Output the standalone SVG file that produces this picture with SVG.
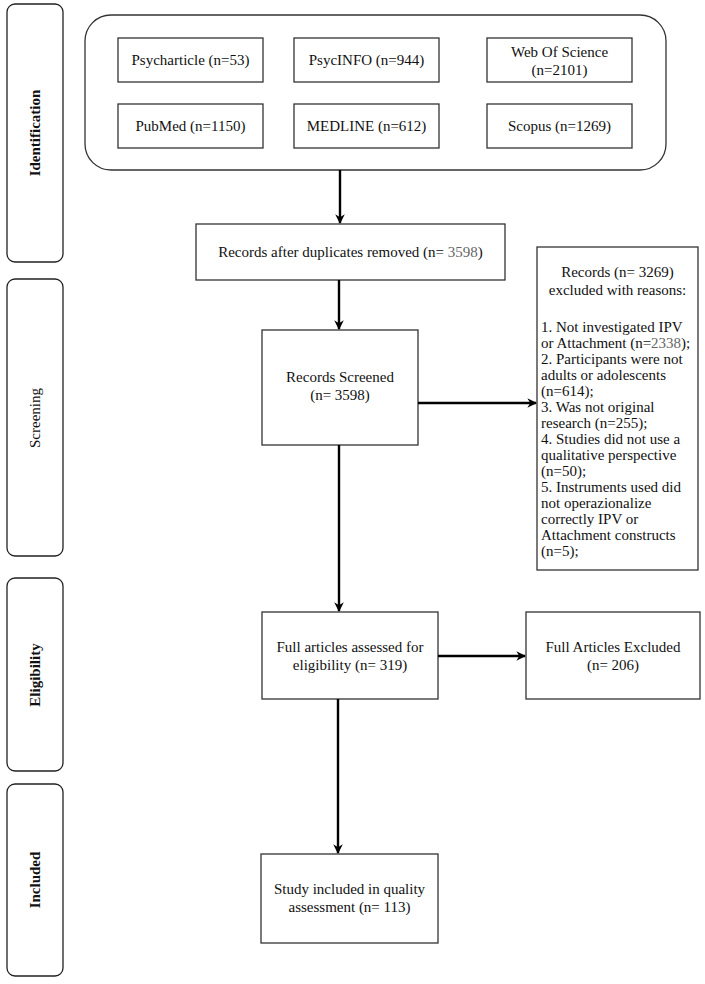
<svg xmlns="http://www.w3.org/2000/svg" width="705" height="984" viewBox="0 0 705 984">
<style>
.box{fill:#fff;stroke:#333;stroke-width:1.3}
.side{fill:#fff;stroke:#222;stroke-width:1.3}
.t{font-family:"Liberation Serif","Times New Roman",serif;font-size:15px;fill:#111}
.c{text-anchor:middle}
.s{font-family:"Liberation Serif","Times New Roman",serif;font-size:15px;fill:#111;text-anchor:middle}
.b{font-weight:bold}
.g{fill:#666}
.conn{stroke:#000;stroke-width:2.4;fill:none}
</style>
<defs>
<marker id="ah" viewBox="0 0 10 10" refX="9" refY="5" markerWidth="4" markerHeight="4" orient="auto" markerUnits="strokeWidth">
<path d="M0,0 L10,5 L0,10 L3,5 Z" fill="#000"/>
</marker>
</defs>
<rect width="705" height="984" fill="#fff"/>

<g id="phase-identification">
<rect class="side" x="7" y="4" width="56" height="258" rx="8"/>
<text class="s b" transform="translate(40,133) rotate(-90)">Identification</text>
</g>
<g id="phase-screening">
<rect class="side" x="7" y="279" width="56" height="277" rx="8"/>
<text class="s" transform="translate(40,418) rotate(-90)">Screening</text>
</g>
<g id="phase-eligibility">
<rect class="side" x="7" y="578" width="56" height="193" rx="8"/>
<text class="s b" transform="translate(40,675) rotate(-90)">Eligibility</text>
</g>
<g id="phase-included">
<rect class="side" x="7" y="784" width="56" height="192" rx="8"/>
<text class="s b" transform="translate(40,880) rotate(-90)">Included</text>
</g>

<g id="databases">
<rect class="box" x="85" y="15" width="581" height="155" rx="26"/>
</g>
<g id="psycharticle">
<rect class="box" x="118" y="38" width="145" height="44"/>
<text class="t c" x="190.5" y="65">Psycharticle (n=53)</text>
</g>
<g id="psycinfo">
<rect class="box" x="294" y="38" width="145" height="44"/>
<text class="t c" x="366.5" y="65">PsycINFO (n=944)</text>
</g>
<g id="wos">
<rect class="box" x="487" y="38" width="145" height="44"/>
<text class="t c" x="559.5" y="57">Web Of Science</text>
<text class="t c" x="559.5" y="75">(n=2101)</text>
</g>
<g id="pubmed">
<rect class="box" x="118" y="104" width="145" height="44"/>
<text class="t c" x="190.5" y="131">PubMed (n=1150)</text>
</g>
<g id="medline">
<rect class="box" x="294" y="104" width="145" height="44"/>
<text class="t c" x="366.5" y="131">MEDLINE (n=612)</text>
</g>
<g id="scopus">
<rect class="box" x="487" y="104" width="145" height="44"/>
<text class="t c" x="559.5" y="131">Scopus (n=1269)</text>
</g>

<g id="dedup">
<rect class="box" x="196" y="224" width="309" height="56"/>
<text class="t c" x="350.5" y="257">Records after duplicates removed (n= <tspan class="g">3598</tspan>)</text>
</g>
<g id="screened">
<rect class="box" x="262" y="330" width="156" height="115"/>
<text class="t c" x="340" y="382">Records Screened</text>
<text class="t c" x="340" y="400">(n= 3598)</text>
</g>
<g id="excluded-reasons">
<rect class="box" x="537" y="247" width="161" height="323"/>
<text class="t c" x="617.5" y="277">Records (n= 3269)</text>
<text class="t c" x="617.5" y="295">excluded with reasons:</text>
<text class="t" x="541" y="332">1. Not investigated IPV</text>
<text class="t" x="541" y="348">or Attachment (n=<tspan class="g">2338</tspan>);</text>
<text class="t" x="541" y="364">2. Participants were not</text>
<text class="t" x="541" y="380">adults or adolescents</text>
<text class="t" x="541" y="396">(n=614);</text>
<text class="t" x="541" y="412">3. Was not original</text>
<text class="t" x="541" y="428">research (n=255);</text>
<text class="t" x="541" y="444">4. Studies did not use a</text>
<text class="t" x="541" y="460">qualitative perspective</text>
<text class="t" x="541" y="476">(n=50);</text>
<text class="t" x="541" y="492">5. Instruments used did</text>
<text class="t" x="541" y="508">not operazionalize</text>
<text class="t" x="541" y="524">correctly IPV or</text>
<text class="t" x="541" y="540">Attachment constructs</text>
<text class="t" x="541" y="556">(n=5);</text>
</g>
<g id="fulltext">
<rect class="box" x="262" y="612" width="176" height="87"/>
<text class="t c" x="350" y="652">Full articles assessed for</text>
<text class="t c" x="350" y="670">eligibility (n= 319)</text>
</g>
<g id="fulltext-excluded">
<rect class="box" x="526" y="612" width="174" height="87"/>
<text class="t c" x="613" y="652">Full Articles Excluded</text>
<text class="t c" x="613" y="670">(n= 206)</text>
</g>
<g id="included">
<rect class="box" x="261" y="854" width="177" height="89"/>
<text class="t c" x="349.5" y="894">Study included in quality</text>
<text class="t c" x="349.5" y="912">assessment (n= 113)</text>
</g>

<g id="connectors">
<line class="conn" x1="340" y1="170" x2="340" y2="223" marker-end="url(#ah)"/>
<line class="conn" x1="339" y1="280" x2="339" y2="329" marker-end="url(#ah)"/>
<line class="conn" x1="418" y1="403" x2="536" y2="403" marker-end="url(#ah)"/>
<line class="conn" x1="339" y1="445" x2="339" y2="611" marker-end="url(#ah)"/>
<line class="conn" x1="438" y1="656" x2="525" y2="656" marker-end="url(#ah)"/>
<line class="conn" x1="338" y1="699" x2="338" y2="853" marker-end="url(#ah)"/>
</g>
</svg>
